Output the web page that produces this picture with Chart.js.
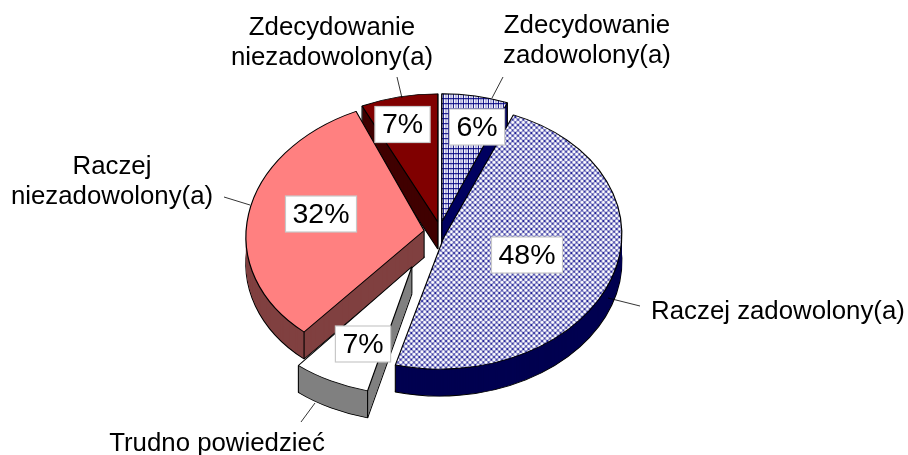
<!DOCTYPE html>
<html><head><meta charset="utf-8">
<style>html,body{margin:0;padding:0;background:#fff}#w{width:908px;height:455px;position:relative}</style>
<script src="https://cdn.jsdelivr.net/npm/chart.js@4"></script>
</head><body><div id="w"><canvas id="c" width="908" height="455"></canvas></div>
<script>
const categories = ["Zdecydowanie zadowolony(a)", "Raczej zadowolony(a)", "Trudno powiedzieć", "Raczej niezadowolony(a)", "Zdecydowanie niezadowolony(a)"];
const values = [6, 48, 7, 32, 7];
const percentLabels = ["6%", "48%", "7%", "32%", "7%"];
const topColors = ["tile", "lattice", "#ffffff", "#ff8080", "#800000"];
const sideColors = ["#000060", "#000050", "#808080", "#804040", "#400000"];
const explode = [10, 4, 62, 16, 10];
const nudgeY = [-3, 4.5, -5, 0, -3];
const skew = [0, -0.033, 0, -0.065, 0];
const tilts = [0.72, 0.74, 0.72, 0.74, 0.72];
const drawOrder = [4, 0, 3, 1, 2];

const DEPTH = 27, CX = 440, CY = 232;

function pattern(w, h, paint, s, k) {
  const t = document.createElement('canvas');
  t.width = w; t.height = h;
  const g = t.getContext('2d');
  g.fillStyle = '#fff'; g.fillRect(0, 0, w, h);
  paint(g);
  const p = g.createPattern(t, 'repeat');
  p.setTransform(new DOMMatrix([1, 0, s * k, k, 0, 0]).inverse());
  return p;
}
const tile = pattern(5, 5, g => {
  g.fillStyle = '#b8b8e0'; g.fillRect(2, 0, 2, 5);
  g.fillStyle = '#000080'; g.fillRect(0, 0, 1, 5); g.fillRect(0, 0, 5, 1);
}, skew[0], tilts[0]);
const lattice = pattern(16, 16, g => {
  g.fillStyle = '#1c1c94'; g.fillRect(0, 0, 16, 16);
  g.fillStyle = '#fff';
  const step = 16 / 6;
  for (let i = -1; i <= 7; i++) for (let j = -1; j <= 7; j++) {
    if ((i + j + 2) % 2 === 0) {
      g.beginPath(); g.arc(i * step, j * step, 1.72, 0, Math.PI * 2); g.fill();
    }
  }
}, skew[1], tilts[1]);
const fills = topColors.map(c => c === 'tile' ? tile : c === 'lattice' ? lattice : c);

const labelBoxes = [
  {x: 477, y: 127}, {x: 527, y: 255}, {x: 363, y: 344}, {x: 321, y: 214}, {x: 402.5, y: 124.5}
];
const outerText = [
  {lines: ["Zdecydowanie", "zadowolony(a)"], x: 587, y: 26},
  {lines: ["Raczej zadowolony(a)"], x: 778, y: 312},
  {lines: ["Trudno powiedzieć"], x: 217, y: 444},
  {lines: ["Raczej", "niezadowolony(a)"], x: 112, y: 167},
  {lines: ["Zdecydowanie", "niezadowolony(a)"], x: 332, y: 28}
];
const leaders = [
  [503, 77, 492, 98], [640, 306, 608, 298], [301, 422, 315, 403], [224, 197, 250, 205], [397, 77, 402, 98]
];

const pie3d = {
  id: 'pie3d',
  beforeDatasetDraw(chart, args) {
    const ctx = chart.ctx, meta = chart.getDatasetMeta(args.index);
    const bx = meta.data[0].x, by = meta.data[0].y;
    drawOrder.forEach(i => {
      const el = meta.data[i], base = el.options, s = skew[i], k = tilts[i];
      const mid = (el.startAngle + el.endAngle) / 2;
      const ex = Math.cos(mid) * explode[i], ey = Math.sin(mid) * explode[i];
      const place = (dy) => ctx.setTransform(1, 0, s * k, k, CX - bx + ex - s * k * by, CY + nudgeY[i] + dy + (ey - by) * k);
      el.options = Object.assign({}, base, {backgroundColor: sideColors[i], borderColor: '#000', borderWidth: 1.2});
      ctx.save(); place(DEPTH); el.draw(ctx); ctx.restore();
      el.options = Object.assign({}, base, {backgroundColor: sideColors[i], borderColor: sideColors[i], borderWidth: 0});
      for (let d = DEPTH - 1; d > 0; d--) { ctx.save(); place(d); el.draw(ctx); ctx.restore(); }
      el.options = base;
      // vertical corner edges
      const ax = CX + ex, ay = CY + nudgeY[i] + ey * k;
      const corner = a => {
        const dy = Math.sin(a) * el.outerRadius * k;
        return [ax + Math.cos(a) * el.outerRadius + s * dy, ay + dy];
      };
      ctx.save(); ctx.setTransform(1, 0, 0, 1, 0, 0);
      ctx.strokeStyle = '#000'; ctx.lineWidth = 1.1;
      [[ax, ay], corner(el.startAngle), corner(el.endAngle)].forEach(([sx, sy]) => {
        ctx.beginPath(); ctx.moveTo(sx, sy); ctx.lineTo(sx, sy + DEPTH); ctx.stroke();
      });
      ctx.restore();
      ctx.save(); place(0); el.draw(ctx); ctx.restore();
    });
    return false;
  },
  afterDraw(chart) {
    const ctx = chart.ctx;
    ctx.save();
    ctx.setTransform(1, 0, 0, 1, 0, 0);
    ctx.strokeStyle = '#000'; ctx.lineWidth = 0.8;
    leaders.forEach(l => { ctx.beginPath(); ctx.moveTo(l[0], l[1]); ctx.lineTo(l[2], l[3]); ctx.stroke(); });
    ctx.textAlign = 'center'; ctx.textBaseline = 'middle';
    ctx.font = '25.8px "Liberation Sans"'; ctx.fillStyle = '#000';
    outerText.forEach(o => o.lines.forEach((s, k) => ctx.fillText(s, o.x, o.y + k * 30)));
    ctx.font = '28.5px "Liberation Sans"';
    percentLabels.forEach((s, i) => {
      const b = labelBoxes[i], w = ctx.measureText(s).width + 14, h = 36;
      ctx.fillStyle = '#fff'; ctx.strokeStyle = '#c8c8c8'; ctx.lineWidth = 1.2;
      ctx.fillRect(b.x - w / 2, b.y - h / 2, w, h); ctx.strokeRect(b.x - w / 2, b.y - h / 2, w, h);
      ctx.fillStyle = '#000'; ctx.fillText(s, b.x, b.y + 1);
    });
    ctx.restore();
  }
};

new Chart(document.getElementById('c'), {
  type: 'pie',
  data: {labels: categories, datasets: [{
    data: values, backgroundColor: fills, borderColor: '#000', borderWidth: 1.2, clip: false
  }]},
  options: {
    responsive: false, animation: false, radius: 178,
    layout: {padding: 0},
    plugins: {legend: {display: false}, tooltip: {enabled: false}}
  },
  plugins: [pie3d]
});
</script></body></html>
